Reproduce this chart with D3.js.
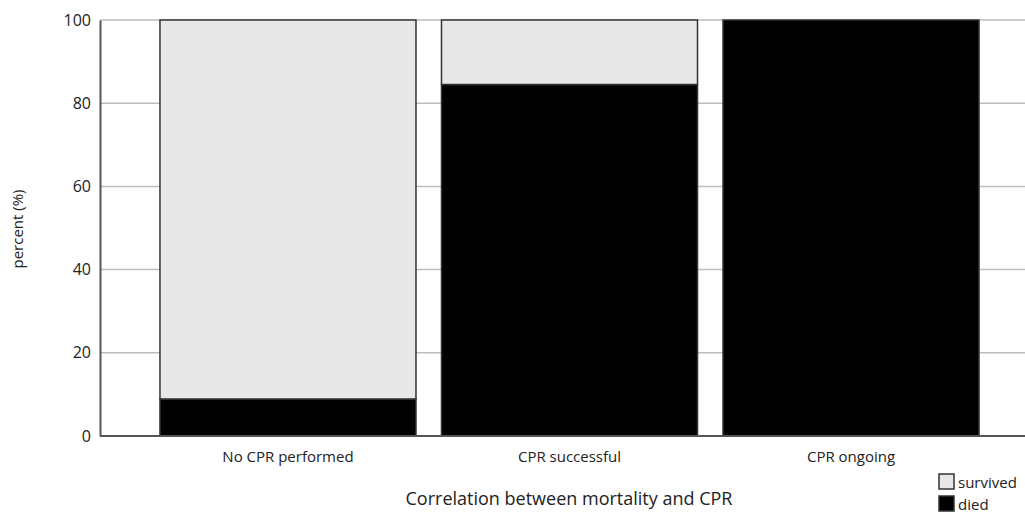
<!DOCTYPE html>
<html><head><meta charset="utf-8">
<script src="https://cdn.jsdelivr.net/npm/d3@7"></script>
<style>
body{margin:0;background:#fff;}
svg text{font-family:"Open Sans",sans-serif;fill:#222;}
</style></head>
<body><svg id="chart" width="1025" height="514"></svg>
<script>
const categories = ["No CPR performed", "CPR successful", "CPR ongoing"];
const died = [8.9, 84.5, 100];
const survived = [91.1, 15.5, 0];
const yTicks = [0, 20, 40, 60, 80, 100];
const seriesNames = ["survived", "died"];
const seriesColors = ["#e8e8e8", "#000000"];

const svg = d3.select("#chart");
const x = d3.scaleBand().domain(categories).range([100, 1039]).paddingInner(0.0906).paddingOuter(0.213);
const y = d3.scaleLinear().domain([0, 100]).range([436, 20]);

// gridlines
svg.append("g").selectAll("line").data(yTicks.filter(d => d > 0)).join("line")
  .attr("x1", 100).attr("x2", 1025)
  .attr("y1", d => y(d)).attr("y2", d => y(d))
  .attr("stroke", "#bdbdbd").attr("stroke-width", 1.5);

// bars
const rows = categories.map((c, i) => ({cat: c, died: died[i], survived: survived[i]}));
const stack = d3.stack().keys(["died", "survived"])(rows);
const color = d3.scaleOrdinal().domain(seriesNames).range(seriesColors);
stack.forEach(layer => {
  svg.append("g").selectAll("rect").data(layer.filter(d => d[1] - d[0] > 0)).join("rect")
    .attr("x", d => x(d.data.cat))
    .attr("width", x.bandwidth())
    .attr("y", d => y(d[1]))
    .attr("height", d => y(d[0]) - y(d[1]))
    .attr("fill", color(layer.key))
    .attr("stroke", "#333").attr("stroke-width", 1.5);
});

// y axis
const yAxis = svg.append("g").attr("transform", "translate(100,0)")
  .call(d3.axisLeft(y).tickValues(yTicks).tickSize(0).tickPadding(9));
yAxis.select(".domain").attr("stroke", "#555").attr("stroke-width", 2);
yAxis.selectAll("text").attr("font-size", 16).attr("fill", "#222")
  .attr("font-family", "'Open Sans',sans-serif");

// x axis
const xAxis = svg.append("g").attr("transform", "translate(0,436)")
  .call(d3.axisBottom(x).tickSize(0).tickPadding(15));
xAxis.select(".domain").attr("d", "M100,0H1025").attr("stroke", "#555").attr("stroke-width", 2);
xAxis.selectAll("text").attr("font-size", 15).attr("fill", "#222")
  .attr("font-family", "'Open Sans',sans-serif");

// axis titles
svg.append("text").attr("transform", "translate(23,229) rotate(-90)")
  .attr("text-anchor", "middle").attr("font-size", 15).text("percent (%)");
svg.append("text").attr("x", 569).attr("y", 505)
  .attr("text-anchor", "middle").attr("font-size", 18).text("Correlation between mortality and CPR");

// legend
const leg = svg.append("g").attr("transform", "translate(939,474)");
seriesNames.forEach((s, i) => {
  leg.append("rect").attr("x", 0).attr("y", i * 22).attr("width", 15).attr("height", 15)
    .attr("fill", seriesColors[i]).attr("stroke", "#333").attr("stroke-width", 1.5);
  leg.append("text").attr("x", 19).attr("y", i * 22 + 14).attr("font-size", 15).text(s);
});
</script></body></html>
